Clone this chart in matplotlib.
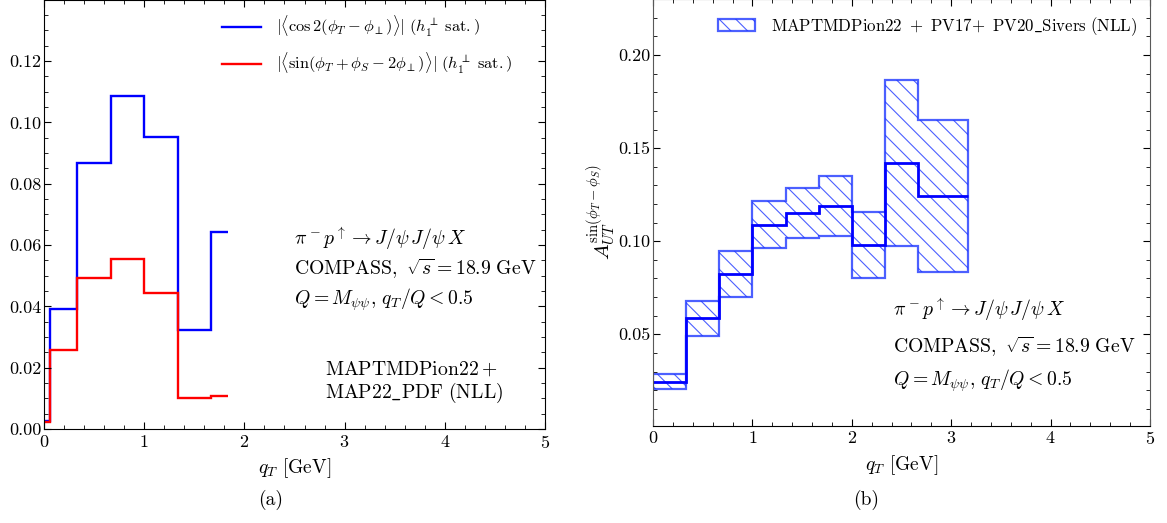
import numpy as np
import matplotlib
matplotlib.use("Agg")
import matplotlib.pyplot as plt
from matplotlib.patches import Patch
from matplotlib.ticker import MultipleLocator, FixedLocator, FormatStrFormatter

plt.rcParams.update({
    "font.family": "serif",
    "font.serif": ["cmr10"],
    "mathtext.fontset": "cm",
    "axes.formatter.use_mathtext": True,
    "axes.unicode_minus": False,
    "xtick.direction": "in",
    "ytick.direction": "in",
    "xtick.top": True,
    "ytick.right": True,
    "xtick.major.size": 5,
    "ytick.major.size": 5,
    "xtick.minor.size": 3,
    "ytick.minor.size": 3,
    "hatch.linewidth": 0.8,
})

# ---------------- data: panel (a) ----------------
edges_a = [0.0, 0.057, 0.333, 0.667, 1.0, 1.333, 1.667, 1.833]
cos2_vals = [0.0027, 0.0391, 0.0866, 0.1086, 0.0953, 0.0324, 0.0642]
sin_vals = [0.0024, 0.0257, 0.0493, 0.0553, 0.0442, 0.0102, 0.0106]
yticks_a = [0.00, 0.02, 0.04, 0.06, 0.08, 0.10, 0.12]

# ---------------- data: panel (b) ----------------
edges_b = [0.0, 0.333, 0.667, 1.0, 1.333, 1.667, 2.0, 2.333, 2.667, 3.167]
asym_central = [0.0246, 0.0586, 0.0825, 0.1086, 0.1152, 0.1188, 0.0979, 0.1422, 0.1243]
asym_upper = [0.0287, 0.0680, 0.0948, 0.1216, 0.1288, 0.1350, 0.1159, 0.1868, 0.1652]
asym_lower = [0.0208, 0.0491, 0.0702, 0.0961, 0.1018, 0.1027, 0.0800, 0.0975, 0.0836]
yticks_b = [0.05, 0.10, 0.15, 0.20]

W, H = 1167, 523
fig = plt.figure(figsize=(W / 100, H / 100), dpi=100)

def px_axes(x0, x1, ytop, ybot):
    return fig.add_axes([x0 / W, 1 - ybot / H, (x1 - x0) / W, (ybot - ytop) / H])

TICK_FS = 13
LAB_FS = 14
ANN_FS = 14.2

# ---------------- panel (a) ----------------
ax1 = px_axes(44, 545, -0.3, 429)
ax1.stairs(cos2_vals, edges_a, baseline=None, color="#0000ff", lw=1.7,
           label=r"$|\langle\cos 2(\phi_T-\phi_\perp)\rangle|\ (h_1^\perp\ \mathrm{sat.})$")
ax1.stairs(sin_vals, edges_a, baseline=None, color="#ff0000", lw=1.7,
           label=r"$|\langle\sin(\phi_T+\phi_S-2\phi_\perp)\rangle|\ (h_1^\perp\ \mathrm{sat.})$")
ax1.set_xlim(0, 5)
ax1.set_ylim(0, 0.14)
ax1.xaxis.set_major_locator(MultipleLocator(1))
ax1.xaxis.set_minor_locator(MultipleLocator(0.2))
ax1.yaxis.set_major_locator(FixedLocator(yticks_a))
ax1.yaxis.set_minor_locator(MultipleLocator(0.005))
ax1.yaxis.set_major_formatter(FormatStrFormatter("%.2f"))
ax1.tick_params(labelsize=TICK_FS)
ax1.tick_params(axis="y", pad=2)
ax1.set_xlabel(r"$q_T$ [GeV]", fontsize=LAB_FS, labelpad=4)
ax1.legend(loc="upper left", bbox_to_anchor=(0.355, 0.968), frameon=False, fontsize=11.8,
           handlelength=2.4, handletextpad=0.9, borderpad=0, borderaxespad=0,
           labelspacing=0.75)
tx = 0.50
ax1.text(tx, 0.443, r"$\pi^- p^\uparrow \to J/\psi\, J/\psi\, X$", transform=ax1.transAxes,
         fontsize=ANN_FS, va="center")
ax1.text(tx, 0.373, r"$\mathrm{COMPASS},\ \sqrt{s}=18.9\ \mathrm{GeV}$", transform=ax1.transAxes,
         fontsize=ANN_FS, va="center")
ax1.text(tx, 0.301, r"$Q=M_{\psi\psi},\, q_T/Q<0.5$", transform=ax1.transAxes,
         fontsize=ANN_FS, va="center")
ax1.text(0.561, 0.140, r"$\mathrm{MAPTMDPion22}+$", transform=ax1.transAxes,
         fontsize=ANN_FS, va="center")
ax1.text(0.561, 0.084, r"$\mathrm{MAP22\_PDF\ (NLL)}$", transform=ax1.transAxes,
         fontsize=ANN_FS, va="center")
fig.text(271 / W, 1 - 500 / H, "(a)", fontsize=LAB_FS, ha="center", va="center")

# ---------------- panel (b) ----------------
ax2 = px_axes(653, 1150, -0.8, 425.5)
band_col = (0.12, 0.22, 1.0, 0.8)
ax2.stairs(asym_upper, edges_b, baseline=asym_lower, fill=True, facecolor="none",
           edgecolor=band_col, hatch="\\\\", lw=1.6)
ax2.stairs(asym_central, edges_b, baseline=None, color="#0000ff", lw=2.0)
ax2.set_xlim(0, 5)
ax2.set_ylim(0.001, 0.23)
ax2.xaxis.set_major_locator(MultipleLocator(1))
ax2.xaxis.set_minor_locator(MultipleLocator(0.2))
ax2.yaxis.set_major_locator(FixedLocator(yticks_b))
ax2.yaxis.set_minor_locator(MultipleLocator(0.01))
ax2.yaxis.set_major_formatter(FormatStrFormatter("%.2f"))
ax2.tick_params(labelsize=TICK_FS)
ax2.tick_params(axis="y", pad=2)
for sp in ["left", "right", "top"]:
    ax2.spines[sp].set_color("0.35")
ax2.set_xlabel(r"$q_T$ [GeV]", fontsize=LAB_FS, labelpad=4)
ax2.set_ylabel(r"$A_{UT}^{\sin(\phi_T-\phi_S)}$", fontsize=LAB_FS + 1, labelpad=0)
handle = Patch(facecolor="none", edgecolor=band_col, hatch="\\\\", lw=1.6)
ax2.legend([handle], [r"$\mathrm{MAPTMDPion22\ +\ PV17\!+\ PV20\_Sivers\ (NLL)}$"],
           loc="upper left", bbox_to_anchor=(0.131, 0.962), frameon=False, fontsize=12.1,
           handlelength=2.2, handletextpad=0.95, borderpad=0, borderaxespad=0)
tx2 = 0.483
ax2.text(tx2, 0.271, r"$\pi^- p^\uparrow \to J/\psi\, J/\psi\, X$", transform=ax2.transAxes,
         fontsize=ANN_FS, va="center")
ax2.text(tx2, 0.184, r"$\mathrm{COMPASS},\ \sqrt{s}=18.9\ \mathrm{GeV}$", transform=ax2.transAxes,
         fontsize=ANN_FS, va="center")
ax2.text(tx2, 0.104, r"$Q=M_{\psi\psi},\, q_T/Q<0.5$", transform=ax2.transAxes,
         fontsize=ANN_FS, va="center")
fig.text(866 / W, 1 - 500 / H, "(b)", fontsize=LAB_FS, ha="center", va="center")

fig.savefig("out.png", dpi=100)
